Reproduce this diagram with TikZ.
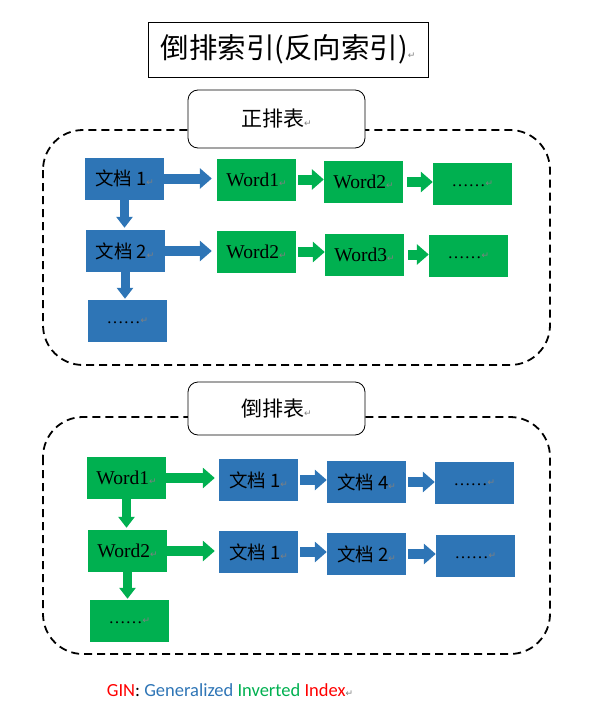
\documentclass[tikz,border=0pt]{standalone}
\usepackage{fontspec}
\usepackage{xcolor}
\setmainfont{Liberation Serif}
\newfontfamily\cjk{Noto Sans CJK SC}
\newfontfamily\capfont{Carlito}
\newfontfamily\symfont{DejaVu Sans}
\usetikzlibrary{arrows.meta}
\definecolor{docblue}{HTML}{2E75B6}
\definecolor{wordgreen}{HTML}{00B050}
\definecolor{ginred}{HTML}{FF0000}
\newcommand{\pmark}{{\symfont\fontsize{9}{9}\selectfont\color{gray}↵}}

\begin{document}
\begin{tikzpicture}[x=1pt, y=-1pt,
  doc/.style={fill=docblue, minimum width=79pt, minimum height=42pt,
              inner sep=0pt, font=\cjk\fontsize{18.5}{18.5}\selectfont},
  word/.style={fill=wordgreen, minimum width=79pt, minimum height=42pt,
               inner sep=0pt, font=\fontsize{19.5}{19.5}\selectfont},
  dots/.style={font=\fontsize{17}{17}\selectfont},
  tablabel/.style={draw, line width=0.8pt, rounded corners=10pt, fill=white,
                   minimum width=177pt, font=\cjk\fontsize{21}{21}\selectfont},
  groupbox/.style={draw, line width=1.8pt, dash pattern=on 8pt off 5pt,
                   rounded corners=40pt},
  harrow/.style={line width=10pt, -{Triangle[length=12pt,width=20pt]}},
  varrow/.style={line width=9pt, -{Triangle[length=11pt,width=16pt]}}
]
  \useasboundingbox (0,0) rectangle (590,709);

  \node[draw, line width=0.8pt, minimum width=280pt, minimum height=55pt,
        font=\cjk\fontsize{28.5}{28.5}\selectfont] (title) at (288,49.5)
        {倒排索引(反向索引)\pmark};

  \draw[groupbox] (43,130) rectangle (550,365);
  \node[tablabel, minimum height=58pt] (fwd) at (276.5,119) {正排表\pmark};

  \node[doc]  (d1)  at (124.5,178.5) {文档 1\pmark};
  \node[word] (w1)  at (256.5,179.5) {Word1\pmark};
  \node[word] (w2)  at (363.5,182)   {Word2\pmark};
  \node[word, dots] (wd) at (472.5,183.5) {……\pmark};
  \node[doc]  (d2)  at (125,251)     {文档 2\pmark};
  \node[word] (w2b) at (256.5,252)   {Word2\pmark};
  \node[word] (w3)  at (364.5,254.5) {Word3\pmark};
  \node[word, dots] (wdb) at (468.5,256) {……\pmark};
  \node[doc, dots]  (dd)  at (127.5,321) {……\pmark};

  \draw[harrow, docblue, shorten >=5pt] (d1.east) -- (d1.east -| w1.west);
  \draw[harrow, wordgreen, shorten <=2pt] (w1.east) -- (w1.east -| w2.west);
  \draw[harrow, wordgreen, shorten <=4pt] (w2.east) -- (w2.east -| wd.west);
  \draw[harrow, docblue, shorten >=5pt] (d2.east) -- (d2.east -| w2b.west);
  \draw[harrow, wordgreen, shorten <=2pt] (w2b.east) -- (w2b.east -| w3.west);
  \draw[harrow, wordgreen, shorten <=4pt] (w3.east) -- (w3.east -| wdb.west);
  \draw[varrow, docblue, shorten >=2pt] (d1.south) -- (d1.south |- d2.north);
  \draw[varrow, docblue, shorten >=1pt] (d2.south) -- (d2.south |- dd.north);

  \draw[groupbox] (43,417) rectangle (550,654);
  \node[tablabel, minimum height=53pt] (inv) at (276.5,408.5) {倒排表\pmark};

  \node[word] (bw1)  at (126.5,478) {Word1\pmark};
  \node[doc]  (bd1)  at (258.5,480) {文档 1\pmark};
  \node[doc]  (bd4)  at (366.5,482) {文档 4\pmark};
  \node[doc, dots] (bdd) at (474.5,483) {……\pmark};
  \node[word] (bw2)  at (127.5,551) {Word2\pmark};
  \node[doc]  (bd1b) at (258.5,552) {文档 1\pmark};
  \node[doc]  (bd2)  at (366.5,554) {文档 2\pmark};
  \node[doc, dots] (bddb) at (475.5,556) {……\pmark};
  \node[word, dots] (bwd) at (129.5,621) {……\pmark};

  \draw[harrow, wordgreen, shorten >=4pt] (bw1.east) -- (bw1.east -| bd1.west);
  \draw[harrow, docblue, shorten <=2pt] (bd1.east) -- (bd1.east -| bd4.west);
  \draw[harrow, docblue, shorten <=2pt] (bd4.east) -- (bd4.east -| bdd.west);
  \draw[harrow, wordgreen, shorten >=4pt] (bw2.east) -- (bw2.east -| bd1b.west);
  \draw[harrow, docblue, shorten <=2pt] (bd1b.east) -- (bd1b.east -| bd2.west);
  \draw[harrow, docblue, shorten <=2pt] (bd2.east) -- (bd2.east -| bddb.west);
  \draw[varrow, wordgreen, shorten >=2pt] (bw1.south) -- (bw1.south |- bw2.north);
  \draw[varrow, wordgreen, shorten >=1pt] (bw2.south) -- (bw2.south |- bwd.north);

  \node[font=\capfont\fontsize{18.5}{18.5}\selectfont] (gin) at (230,690)
    {{\color{ginred}GIN}: {\color{docblue}Generalized} {\color{wordgreen}Inverted} {\color{ginred}Index}\pmark};
\end{tikzpicture}
\end{document}
